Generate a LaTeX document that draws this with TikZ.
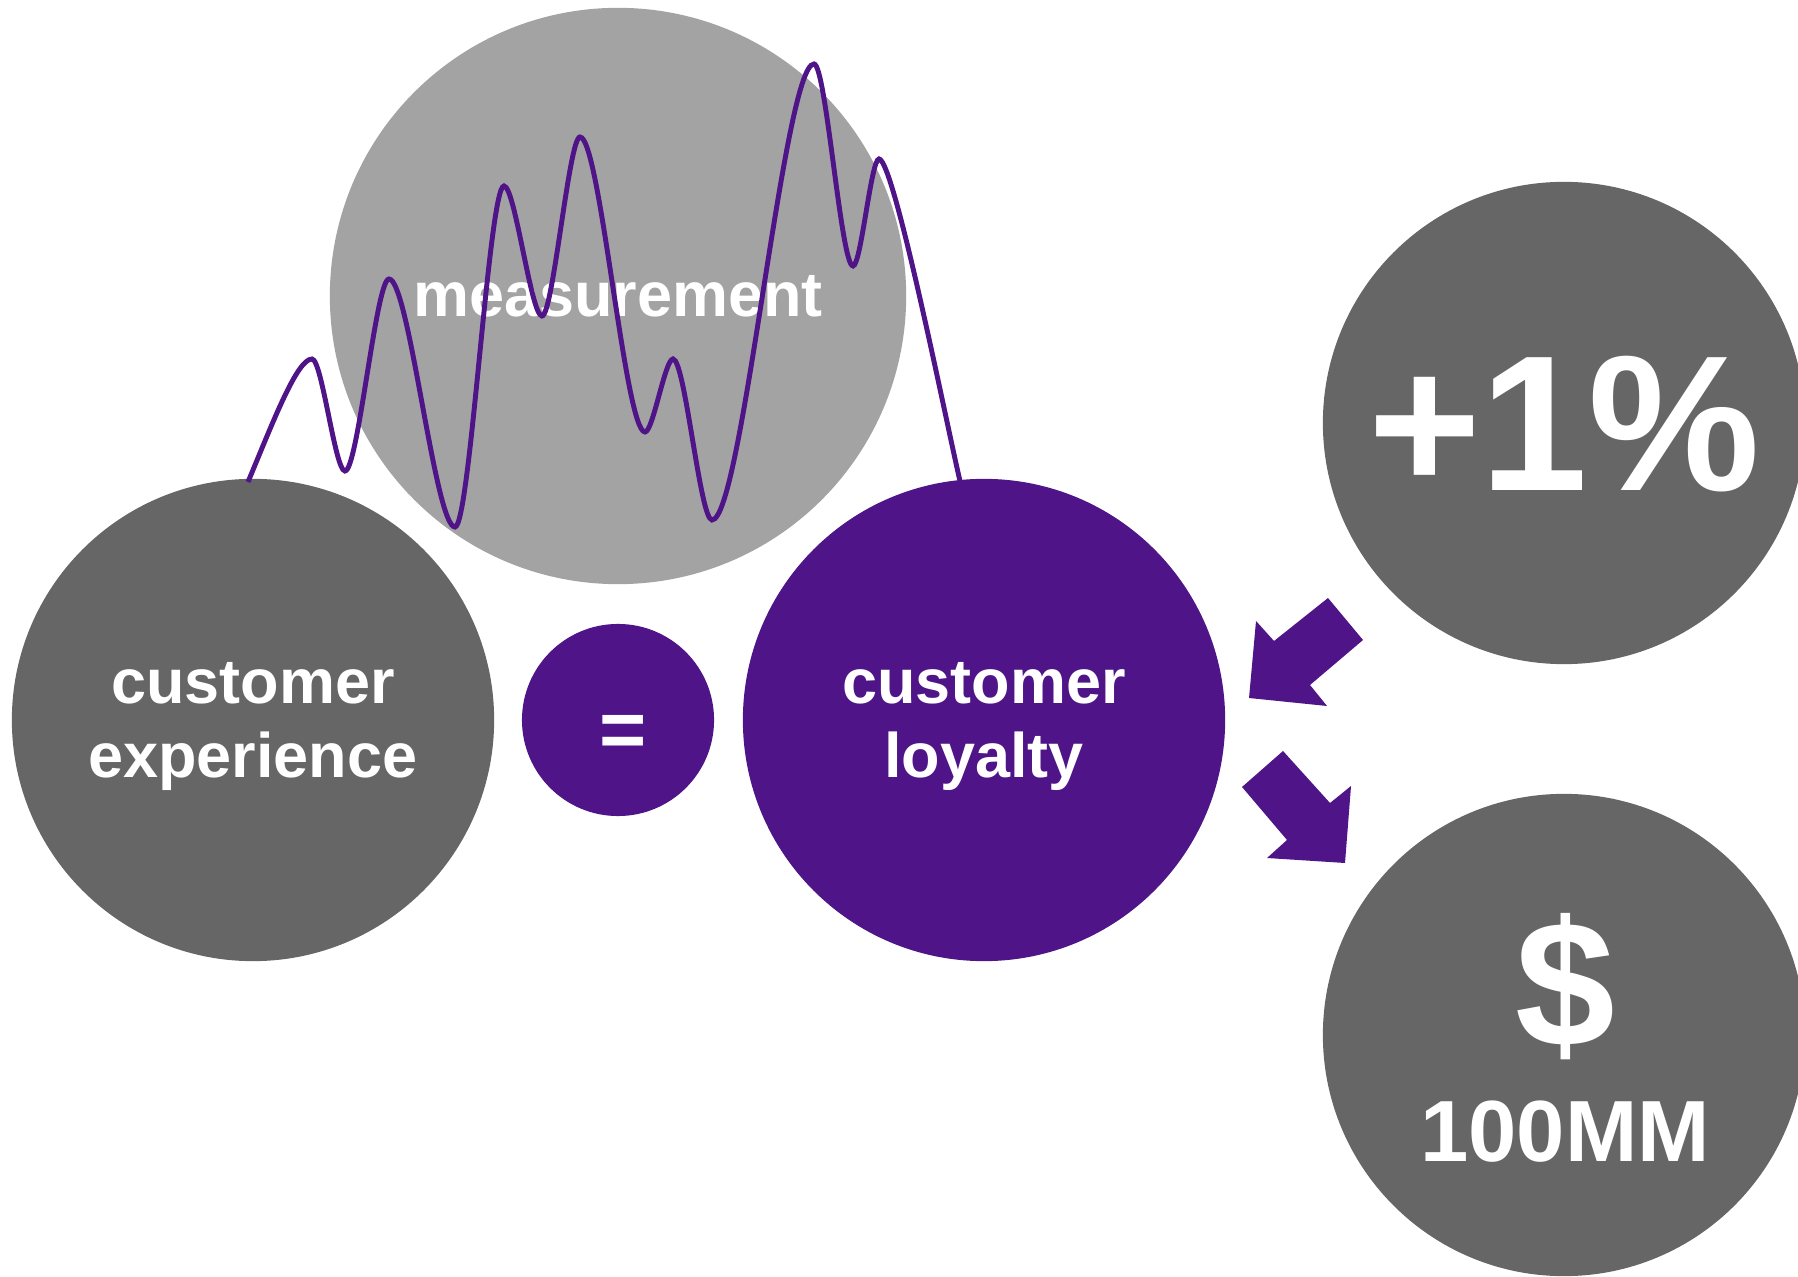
\documentclass[tikz,border=0pt]{standalone}
\usepackage{fontspec}
\setmainfont{Liberation Sans}
\definecolor{loyaltypurple}{RGB}{79,20,136}
\definecolor{bubblegrey}{RGB}{102,102,102}
\definecolor{measuregrey}{RGB}{163,163,163}
\newcommand{\bubblefont}{\fontsize{17.9}{21.3}\selectfont\bfseries}

\begin{document}
\begin{tikzpicture}[x=0.01cm,y=-0.01cm,
  bubble/.style={circle,fill=bubblegrey,inner sep=0pt,minimum size=4.82cm,text=white,align=center,text depth=0pt,font=\bubblefont},
  bigtext/.style={text=white,inner sep=0pt,text depth=0pt,font=\bfseries}]
\useasboundingbox (0,0) rectangle (1798,1277);

\node [bubble,fill=measuregrey,minimum size=5.76cm] (meas) at (618,296) {measurement};
\node [bubble] (exp) at (253,720) {customer\\experience};
\node [bubble,fill=loyaltypurple,minimum size=1.92cm] (eq) at (618,720) {};
\node [bigtext,font=\fontsize{23}{23}\selectfont\bfseries] (eqsign) at (623,736) {=};
\node [bubble,fill=loyaltypurple] (loyal) at (984,720) {customer\\loyalty};

\node [bubble,font=\fontsize{54.9}{60}\selectfont\bfseries] (pct) at (1564,423) {+1\%};
\node [bubble] (money) at (1564,1035) {};
\node [bigtext,font=\fontsize{51}{51}\selectfont\bfseries] (dollar) at (1565,980) {\$};
\node [bigtext,font=\fontsize{24.7}{24.7}\selectfont\bfseries] (amount) at (1565,1131) {100MM};

% block arrows: into the loyalty bubble and out towards the money
\fill [loyaltypurple] (1328,598) -- (1363,640) -- (1310,685) -- (1327,706)
  -- (1249,698) -- (1256,621) -- (1274,641) -- cycle;
\fill [loyaltypurple] (1242,787) -- (1283,751) -- (1330,803) -- (1351,786)
  -- (1345,863) -- (1267,858) -- (1287,840) -- cycle;

% the wave runs from one bubble to the other over the measurement circle
\draw [loyaltypurple,line width=1.4pt] (248,482)
  .. controls +(25,-60) and +(-15,0) .. (312,359)
  .. controls +(10,0) and +(-10,0) .. (345,471)
  .. controls +(13,0) and +(-13,0) .. (389,279)
  .. controls +(20,0) and +(-20,0) .. (455,527)
  .. controls +(15,0) and +(-15,0) .. (504,186)
  .. controls +(11,0) and +(-11,0) .. (542,316)
  .. controls +(11,0) and +(-11,0) .. (580,137)
  .. controls +(20,0) and +(-20,0) .. (645,432)
  .. controls +(8,0) and +(-8,0) .. (673,359)
  .. controls +(12,0) and +(-12,0) .. (712,520)
  .. controls +(30,0) and +(-30,0) .. (814,64)
  .. controls +(12,0) and +(-12,0) .. (853,266)
  .. controls +(8,0) and +(-8,0) .. (879,159)
  .. controls +(15,0) and +(-12,-50) .. (960,481);
\end{tikzpicture}
\end{document}
